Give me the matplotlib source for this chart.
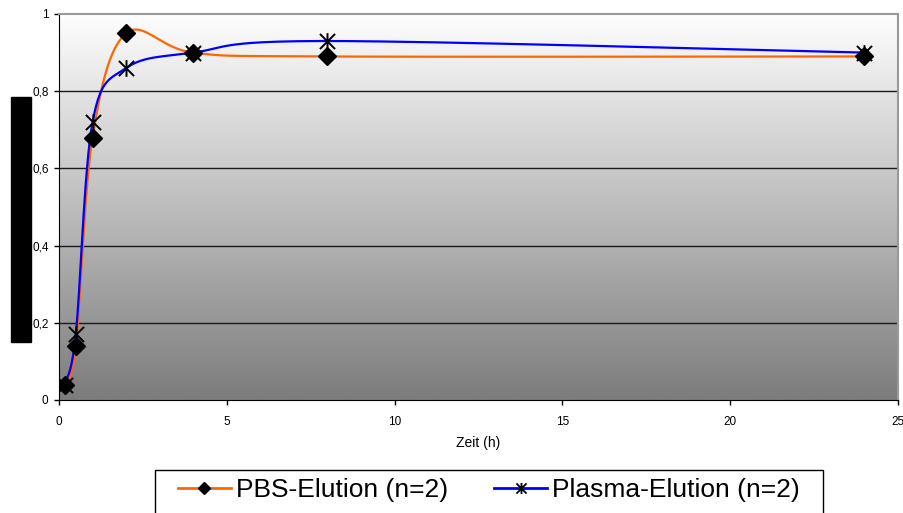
import numpy as np
import matplotlib
matplotlib.use("Agg")
import matplotlib.pyplot as plt
from matplotlib.patches import Rectangle
from matplotlib.path import Path
from matplotlib.colors import LinearSegmentedColormap

plt.rcParams["font.family"] = ["Liberation Sans", "DejaVu Sans"]

# data
zeit = [0.17, 0.5, 1, 2, 4, 8, 24]
pbs = [0.04, 0.14, 0.68, 0.95, 0.90, 0.89, 0.89]
plasma = [0.04, 0.17, 0.72, 0.86, 0.90, 0.93, 0.90]

x_ticks = [0, 5, 10, 15, 20, 25]
y_ticks = [0, 0.2, 0.4, 0.6, 0.8, 1.0]
y_labels = ["0", "0,2", "0,4", "0,6", "0,8", "1"]

# Excel style star: an X with a vertical bar through it
STAR = Path([(-1, -1), (1, 1), (-1, 1), (1, -1), (0, -1.1), (0, 1.1)],
            [Path.MOVETO, Path.LINETO] * 3)


def smooth(x, y, n=40):
    # Excel-like smoothed line: cubic bezier with catmull-rom control points
    pts = np.column_stack([x, y]).astype(float)
    p = np.vstack([pts[0], pts, pts[-1]])
    t = np.linspace(0, 1, n)[:, None]
    segs = []
    for i in range(1, len(p) - 2):
        p0, p1, p2, p3 = p[i - 1], p[i], p[i + 1], p[i + 2]
        c1 = p1 + (p2 - p0) / 6
        c2 = p2 - (p3 - p1) / 6
        segs.append((1 - t) ** 3 * p1 + 3 * (1 - t) ** 2 * t * c1
                    + 3 * (1 - t) * t ** 2 * c2 + t ** 3 * p2)
    s = np.vstack(segs)
    return s[:, 0], s[:, 1]


W, H = 904, 513
fig = plt.figure(figsize=(W / 100, H / 100), dpi=100)
ax = fig.add_axes([59 / W, 1 - 400 / H, (898 - 59) / W, (400 - 14) / H])

# grey gradient background
cmap = LinearSegmentedColormap.from_list("bg", ["#7c7c7c", "#fefefe"])
grad = np.linspace(0, 1, 256)[:, None]
ax.imshow(grad, cmap=cmap, aspect="auto", extent=(0, 25, 0, 1),
          origin="lower", zorder=0)

for yv in y_ticks[1:-1]:
    ax.axhline(yv, color="#1a1a1a", lw=1, zorder=1)

sx, sy = smooth(zeit, pbs)
ax.plot(sx, sy, color="#ff6600", lw=1.6, zorder=2)
sx, sy = smooth(zeit, plasma)
ax.plot(sx, sy, color="#0000ff", lw=1.6, zorder=3)

ax.plot(zeit, pbs, ls="none", marker="D", ms=9, color="black", zorder=4)
ax.plot(zeit, plasma, ls="none", marker=STAR, ms=12, mew=1.4,
        color="black", zorder=5)

# legend proxies
h1, = ax.plot([], [], color="#ff6600", lw=2, marker="D", ms=6.5,
              mfc="black", mec="black")
h2, = ax.plot([], [], color="#0000ff", lw=2, marker=STAR, ms=8,
              mew=1.3, mfc="black", mec="black")

ax.set_xlim(0, 25)
ax.set_ylim(0, 1)
ax.set_xticks(x_ticks)
ax.set_xticklabels([str(v) for v in x_ticks])
ax.set_yticks(y_ticks)
ax.set_yticklabels(y_labels)
ax.tick_params(labelsize=8.5, length=3.5, width=1, direction="out")
ax.tick_params(axis="x", pad=8)
ax.tick_params(axis="y", pad=4)
ax.set_xlabel("Zeit (h)", fontsize=10, labelpad=6)

for side in ("top", "right"):
    ax.spines[side].set_color("#999999")
    ax.spines[side].set_linewidth(1.5)
for side in ("left", "bottom"):
    ax.spines[side].set_color("black")

# black box hiding the y axis title
fig.patches.append(Rectangle((11 / W, 1 - 342 / H), 20 / W, 245 / H,
                             transform=fig.transFigure, color="black"))

# legend frame runs off the bottom of the picture
fig.patches.append(Rectangle((155 / W, -0.05), (823 - 155) / W,
                             1 - 470 / H + 0.05, transform=fig.transFigure,
                             facecolor="white", edgecolor="black", lw=1,
                             zorder=2))
leg = fig.legend(handles=[h1, h2],
                 labels=["PBS-Elution (n=2)", "Plasma-Elution (n=2)"],
                 loc="upper left", bbox_to_anchor=(178 / W, 1 - 478 / H),
                 ncol=2, fontsize=19, frameon=False,
                 handlelength=2.0, handletextpad=0.2, columnspacing=1.75,
                 borderpad=0, borderaxespad=0)
leg.set_zorder(3)

fig.savefig("out.png", dpi=100)
